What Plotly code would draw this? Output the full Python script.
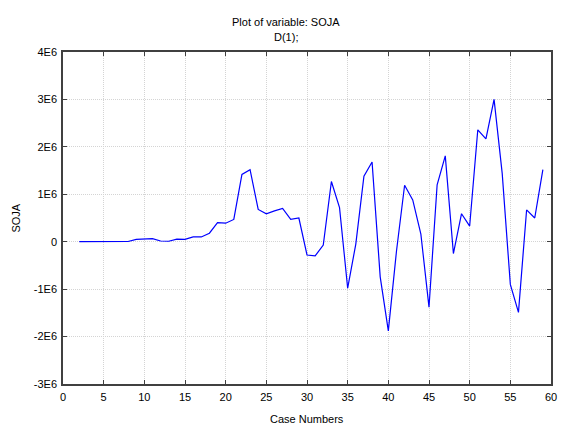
import plotly.graph_objects as go

case_numbers = list(range(2, 60))
soja_millions = [
    0.0, 0.0, 0.005, 0.01, 0.005, 0.005, 0.005,  # 2-8
    0.05, 0.065, 0.065, 0.015, 0.01, 0.055, 0.05,  # 9-15
    0.10, 0.10, 0.18, 0.40, 0.39, 0.47,  # 16-21
    1.42, 1.52, 0.68, 0.59, 0.65, 0.70, 0.47, 0.50,  # 22-29
    -0.28, -0.30, -0.07, 1.27, 0.72, -0.98, -0.05,  # 30-36
    1.38, 1.68, -0.74, -1.88, -0.2, 1.19, 0.88, 0.16,  # 37-44
    -1.38, 1.2, 1.81, -0.25, 0.59, 0.33,  # 45-50
    2.36, 2.17, 3.0, 1.44, -0.90, -1.49, 0.67, 0.5, 1.52,  # 51-59
]
soja = [v * 1e6 for v in soja_millions]

y_tickvals = [-3e6, -2e6, -1e6, 0, 1e6, 2e6, 3e6, 4e6]
y_ticktext = ["-3E6", "-2E6", "-1E6", "0", "1E6", "2E6", "3E6", "4E6"]
x_tickvals = list(range(0, 61, 5))

title_line1 = "Plot of variable: SOJA"
title_line2 = "D(1);"
x_title = "Case Numbers"
y_title = "SOJA"

W, H = 563, 424
L, R, T, B = 63, 6, 52, 40

font = dict(family="Liberation Sans, Arial, sans-serif", size=11, color="#000000")

fig = go.Figure()
fig.add_trace(go.Scatter(
    x=case_numbers, y=soja, mode="lines",
    line=dict(color="#0000ff", width=1.2),
    showlegend=False, hoverinfo="x+y",
))

axis_common = dict(
    showline=True, linecolor="#404040", linewidth=1.5, mirror="allticks",
    ticks="inside", ticklen=4, tickcolor="#404040", tickwidth=1,
    showgrid=True, gridcolor="#d4d4d4", griddash="1px,1px", gridwidth=1,
    zeroline=False, tickfont=font, ticklabelstandoff=2,
)

fig.update_xaxes(range=[0, 60], tickvals=x_tickvals, **axis_common)
fig.update_yaxes(range=[-3e6, 4e6], tickvals=y_tickvals, ticktext=y_ticktext, **axis_common)

px_x = lambda p: (p - L) / (W - L - R)
px_y = lambda p: (H - B - p) / (H - T - B)

fig.update_layout(
    width=W, height=H,
    margin=dict(l=L, r=R, t=T, b=B, pad=0),
    paper_bgcolor="white", plot_bgcolor="white",
    font=font,
    annotations=[
        dict(text=title_line1, x=px_x(289), y=px_y(22), xref="paper", yref="paper",
             xanchor="center", yanchor="middle", showarrow=False, font=font),
        dict(text=title_line2, x=px_x(289), y=px_y(37), xref="paper", yref="paper",
             xanchor="center", yanchor="middle", showarrow=False, font=font),
        dict(text=x_title, x=px_x(310), y=px_y(419), xref="paper", yref="paper",
             xanchor="center", yanchor="middle", showarrow=False, font=font),
        dict(text=y_title, x=px_x(15), y=px_y(218), xref="paper", yref="paper",
             xanchor="center", yanchor="middle", showarrow=False, font=font,
             textangle=-90),
    ],
)

fig.write_html("out.html")
